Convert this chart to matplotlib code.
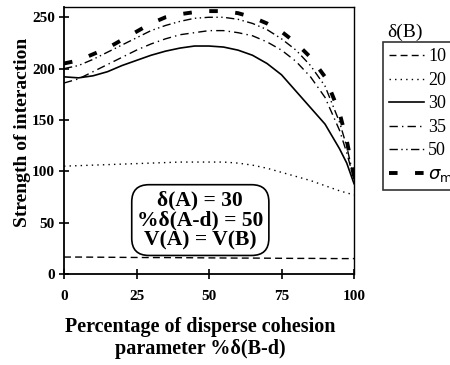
import matplotlib
matplotlib.use('Agg')
import matplotlib.pyplot as plt

# data
pct_bd = [0, 5, 10, 15, 20, 25, 30, 35, 40, 45, 50, 55, 60, 65, 70, 75, 80, 85, 90, 95, 97.5, 100]
delta_b_labels = ['10', '20', '30', '35', '50', r'$\sigma_{\rm max}$']
s10 = [16.5, 16.5, 16.4, 16.3, 16.2, 16.1, 16, 16, 15.9, 15.8, 15.7, 15.6, 15.5, 15.5, 15.4, 15.3, 15.2, 15.2, 15.1, 15, 15, 15]
s20 = [105, 105.5, 106, 106.5, 107, 107.5, 108, 108.5, 109, 109, 109, 109, 108, 106, 103, 99, 95, 91, 86, 81, 79, 77]
s30 = [192, 191, 193, 197, 203, 208, 213, 217, 220, 222, 222, 221, 218, 213, 205, 194, 178, 162, 146, 122, 108, 88]
s35 = [186, 190, 197, 204, 211, 218, 224, 229, 233, 235, 237, 237, 235, 232, 226, 218, 207, 192, 172, 140, 118, 92]
s50 = [200, 203, 209, 216, 223, 230, 237, 242, 246, 249, 250, 250, 248, 244, 238, 229, 218, 203, 183, 148, 124, 93]
smax = [205, 208, 214, 220, 228, 236, 244, 250, 253, 255, 256, 256, 254, 250, 244, 236, 225, 211, 192, 157, 130, 95]
box_text = 'δ(A) = 30\n%δ(A-d) = 50\nV(A) = V(B)'

plt.rcParams['font.family'] = ['Liberation Serif', 'DejaVu Serif']

fig = plt.figure(figsize=(4.5, 3.65), dpi=100)
ax = fig.add_axes([64/450, 1 - 274/365, 290/450, 267/365])

styles = [
	dict(ls=(0, (5, 3)), lw=1.0),
	dict(ls=(0, (1, 3)), lw=1.0),
	dict(ls='-', lw=1.2),
	dict(ls=(0, (6, 3, 1, 3)), lw=1.0),
	dict(ls=(0, (6, 2.5, 1, 2.5, 1, 2.5)), lw=1.0),
	dict(ls=(0, (2.2, 4.5)), lw=2.8),
]
handles = []
for ys, lab, st in zip([s10, s20, s30, s35, s50, smax], delta_b_labels, styles):
	ln, = ax.plot(pct_bd, ys, color='black', label=lab, **st)
	handles.append(ln)

ax.set_xlim(0, 100)
ax.set_ylim(0, 260)
ax.set_xticks([0, 25, 50, 75, 100])
ax.set_yticks([0, 50, 100, 150, 200, 250])
ax.tick_params(axis='both', direction='inout', length=7, width=1.2, labelsize=11)
ax.tick_params(axis='x', pad=8)
ax.tick_params(axis='y', pad=3)
for lbl in ax.get_xticklabels() + ax.get_yticklabels():
	lbl.set_fontweight('bold')
ax.spines['left'].set_linewidth(1.3)
ax.spines['bottom'].set_linewidth(1.3)
ax.spines['top'].set_linewidth(1.0)
ax.spines['right'].set_linewidth(1.0)

ax.set_ylabel('Strength of interaction', fontsize=14, fontweight='bold')
ax.yaxis.set_label_coords(-0.115, 0.53)
ax.set_xlabel('Percentage of disperse cohesion\nparameter %δ(B-d)', fontsize=14.5,
	fontweight='bold', linespacing=1.15, va='top')
ax.xaxis.set_label_coords(0.47, -0.16)

ax.text(47, 52.5, box_text, ha='center', va='center', fontsize=15.5, fontweight='bold',
	linespacing=1.0,
	bbox=dict(boxstyle='round,pad=0.25,rounding_size=0.8', fc='white', ec='black', lw=1.2))

# legend sits to the right, partly cut by the figure edge as in the source
leg = fig.legend(handles=handles, loc='upper left', bbox_to_anchor=(383/450, 1 - 42/365),
	bbox_transform=fig.transFigure, borderaxespad=0, frameon=True, fancybox=False,
	fontsize=13, handlelength=1.9, handletextpad=0.25, labelspacing=0.36, borderpad=0.35)
leg.get_frame().set_edgecolor('black')
leg.get_frame().set_linewidth(1.2)
fig.text(405/450, 1 - 32/365, 'δ(B)', ha='center', va='center', fontsize=14)

fig.savefig('out.png', dpi=100)
